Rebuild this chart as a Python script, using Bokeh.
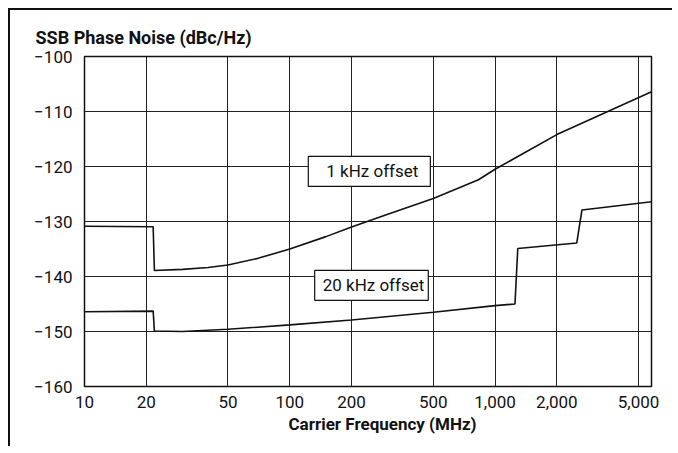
from bokeh.plotting import figure
from bokeh.models import FixedTicker, Label, Range1d, Title
from bokeh.embed import file_html
from bokeh.resources import INLINE

# ---- data ----
freq_1k = [10, 21.6, 21.9, 30, 40, 50, 70, 100, 150, 200, 300, 500, 830, 1000, 2000, 5780]
pn_1k = [-130.85, -130.95, -138.9, -138.7, -138.35, -137.9, -136.7, -135.0, -132.75,
         -131.0, -128.7, -125.8, -122.4, -120.5, -114.2, -106.4]

freq_20k = [10, 21.6, 21.9, 30, 50, 100, 200, 500, 1000, 1250, 1290, 2500, 2650, 5780]
pn_20k = [-146.4, -146.3, -149.9, -150.0, -149.6, -148.8, -147.9, -146.5,
          -145.3, -145.0, -134.9, -133.9, -127.9, -126.4]

x_ticks = [10, 20, 50, 100, 200, 500, 1000, 2000, 5000]
x_tick_labels = ["10", "20", "50", "100", "200", "500", "1,000", "2,000", "5,000"]
y_ticks = [-160, -150, -140, -130, -120, -110, -100]
y_tick_labels = ["\u2212160", "\u2212150", "\u2212140", "\u2212130", "\u2212120", "\u2212110", "\u2212100"]

title_text = "SSB Phase Noise (dBc/Hz)"
xlabel_text = "Carrier Frequency (MHz)"
label_1k = "1 kHz offset"
label_20k = "20 kHz offset"

FONT = "Roboto"
INK = "#111111"

p = figure(width=664, height=438, x_axis_type="log",
           x_range=Range1d(10, 5780), y_range=Range1d(-160, -100),
           output_backend="svg", toolbar_location=None,
           min_border_left=74, min_border_top=46, min_border_right=23,
           min_border_bottom=62)
p.styles = {"border-top": "2px solid #111111", "border-left": "2px solid #111111",
            "margin-top": "8px", "margin-left": "8px"}

p.outline_line_color = INK
p.outline_line_width = 1.5
p.background_fill_color = "white"
p.border_fill_color = "white"

p.title = Title(text=title_text, align="left", offset=-49, standoff=18,
                text_font=FONT, text_font_size="18px", text_font_style="bold",
                text_color=INK)
p.add_layout(Title(text=xlabel_text, align="left", offset=204, standoff=3,
                   text_font=FONT, text_font_size="17px", text_font_style="bold",
                   text_color=INK), "below")

p.xaxis.ticker = FixedTicker(ticks=x_ticks)
p.xaxis.major_label_overrides = {t: s for t, s in zip(x_ticks, x_tick_labels)}
p.yaxis.ticker = FixedTicker(ticks=y_ticks)
p.yaxis.major_label_overrides = {t: s for t, s in zip(y_ticks, y_tick_labels)}

for ax in (p.xaxis, p.yaxis):
    ax.axis_line_color = None
    ax.major_tick_line_color = None
    ax.minor_tick_line_color = None
    ax.major_label_text_font = FONT
    ax.major_label_text_font_size = "17px"
    ax.major_label_text_color = INK
p.yaxis.major_label_standoff = 6
p.xaxis.major_label_standoff = 3

p.xgrid.grid_line_color = "#222222"
p.ygrid.grid_line_color = "#222222"
p.xgrid.grid_line_width = 1
p.ygrid.grid_line_width = 1

p.line(freq_1k, pn_1k, line_color=INK, line_width=1.6)
p.line(freq_20k, pn_20k, line_color=INK, line_width=1.6)

p.add_layout(Label(x=244, y=-120.9, text=label_1k, text_align="center",
                   text_baseline="middle", text_font=FONT, text_font_size="17px",
                   text_color=INK, background_fill_color="white",
                   border_line_color=INK, border_line_width=1.2,
                   padding=dict(left=18, right=12, top=5, bottom=5)))
p.add_layout(Label(x=250, y=-141.6, text=label_20k, text_align="center",
                   text_baseline="middle", text_font=FONT, text_font_size="17px",
                   text_color=INK, background_fill_color="white",
                   border_line_color=INK, border_line_width=1.2,
                   padding=dict(left=8, right=4, top=5, bottom=5)))

open("out.html", "w").write(file_html(p, INLINE))
